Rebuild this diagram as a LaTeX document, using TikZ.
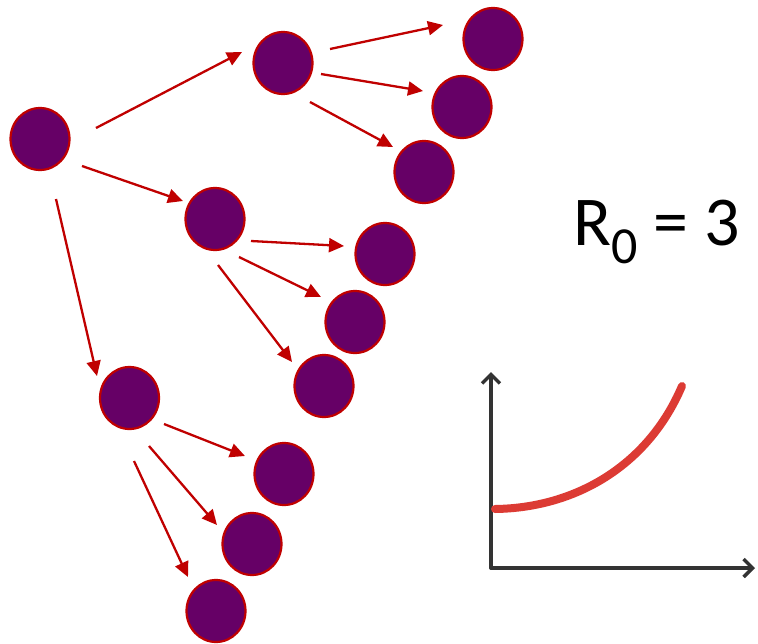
\documentclass[tikz,border=0pt]{standalone}
\usepackage{fontspec}
\setmainfont{Carlito}
\usetikzlibrary{shapes.geometric,arrows.meta,calc}
\definecolor{dot}{HTML}{660066}
\definecolor{edge}{HTML}{C00000}
\definecolor{curvecol}{HTML}{DC3B34}
\definecolor{axiscol}{HTML}{333333}
\begin{document}
\begin{tikzpicture}[x=1pt,y=-1pt,
  person/.style={ellipse,draw=edge,fill=dot,line width=2.2pt,minimum width=59pt,minimum height=62pt,inner sep=0pt},
  spread/.style={draw=edge,line width=2.3pt,-{Triangle[length=15pt,width=14pt]}},
  axisline/.style={draw=axiscol,line width=3.5pt,line cap=round,-{Straight Barb[length=9pt,width=18pt,line width=3.5pt]}},
  growth/.style={draw=curvecol,line width=8pt,line cap=round}]
\useasboundingbox (0,0) rectangle (758,643);
\fill[white] (0,0) rectangle (758,643);
% people
\node[person] (root) at (40,139) {};
\node[person] (A) at (283,63) {};
\node[person] (A1) at (493,39) {};
\node[person] (A2) at (462,107) {};
\node[person] (A3) at (424,172) {};
\node[person] (B) at (215,219) {};
\node[person] (B1) at (385,254) {};
\node[person] (B2) at (355,322) {};
\node[person] (B3) at (324,386) {};
\node[person] (C) at (129.5,398) {};
\node[person] (C1) at (284,474) {};
\node[person] (C2) at (252,544) {};
\node[person] (C3) at (216,611) {};
% arrows
\draw[spread] ($(root)+(56,-11)$) -- ($(A)+(-41,-11)$);
\draw[spread] ($(root)+(42,27)$) -- ($(B)+(-32,-18)$);
\draw[spread] ($(root)+(16,60)$) -- ($(C)+(-32.5,-22)$);
\draw[spread] ($(A)+(47,-14)$) -- ($(A1)+(-50,-14)$);
\draw[spread] ($(A)+(38,11)$) -- ($(A2)+(-39,-16)$);
\draw[spread] ($(A)+(27,39)$) -- ($(A3)+(-31,-25)$);
\draw[spread] ($(B)+(36,22)$) -- ($(B1)+(-41,-8)$);
\draw[spread] ($(B)+(24,38)$) -- ($(B2)+(-34,-25)$);
\draw[spread] ($(B)+(3,46)$) -- ($(B3)+(-32,-24)$);
\draw[spread] ($(C)+(34.5,26)$) -- ($(C1)+(-39,-18)$);
\draw[spread] ($(C)+(19.5,48)$) -- ($(C2)+(-35,-19)$);
\draw[spread] ($(C)+(4.5,63)$) -- ($(C3)+(-28,-34)$);
% label
\node[anchor=base west,inner sep=0pt] (r0) at (573,245)
  {\fontsize{70}{84}\selectfont R\raisebox{-18pt}{\fontsize{52}{60}\selectfont 0} = 3};
% graph
\coordinate (o) at (491,568);
\coordinate (ytop) at (491,372);
\coordinate (xend) at (755,568);
\coordinate (cstart) at (495,509);
\coordinate (cend) at (682,386);
\draw[axisline] (o) -- (ytop);
\draw[axisline] (o) -- (xend);
\draw[growth] (cstart) .. controls (575,508) and (648,466) .. (cend);
\end{tikzpicture}
\end{document}
